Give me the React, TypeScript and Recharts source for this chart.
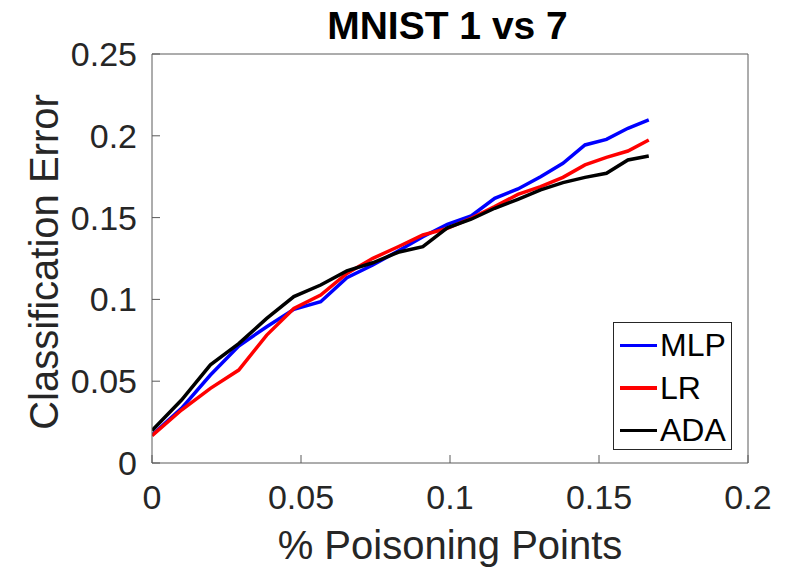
import React from 'react';
import { LineChart, Line, XAxis, YAxis } from 'recharts';

const poisonFraction = [0, 0.0099, 0.0196, 0.0291, 0.0385, 0.0476, 0.0566, 0.0654, 0.0741, 0.0826, 0.0909, 0.0991, 0.1071, 0.115, 0.1228, 0.1304, 0.1379, 0.1453, 0.1525, 0.1597, 0.1667];
const mlpError = [0.0171, 0.0334, 0.0538, 0.0715, 0.0833, 0.0939, 0.0986, 0.1133, 0.121, 0.1296, 0.1383, 0.1459, 0.151, 0.1618, 0.1675, 0.175, 0.1832, 0.1944, 0.1978, 0.2046, 0.2097];
const lrError = [0.0167, 0.0324, 0.0456, 0.0568, 0.0782, 0.0945, 0.1027, 0.1159, 0.1251, 0.1322, 0.1394, 0.1434, 0.1496, 0.1567, 0.1642, 0.1689, 0.1746, 0.1822, 0.1868, 0.1907, 0.1974];
const adaError = [0.0198, 0.0385, 0.06, 0.073, 0.0884, 0.1017, 0.1088, 0.1174, 0.1224, 0.1288, 0.1322, 0.1438, 0.149, 0.1557, 0.1612, 0.1669, 0.1714, 0.1746, 0.1771, 0.1852, 0.1877];
const xTicks = [0, 0.05, 0.1, 0.15, 0.2];
const yTicks = [0, 0.05, 0.1, 0.15, 0.2, 0.25];
const seriesNames = ['MLP', 'LR', 'ADA'];
const seriesColors = ['#0000ff', '#ff0000', '#000000'];

const data = poisonFraction.map((x, i) => ({ x, MLP: mlpError[i], LR: lrError[i], ADA: adaError[i] }));

const FONT = '"Liberation Sans", Arial, Helvetica, sans-serif';
const AXIS = '#5a5a5a';
const TEXT = '#262626';

const LegendBox = () => (
  <div style={{ position: 'absolute', left: 613, top: 322, width: 117, height: 126, border: `1px solid ${TEXT}`, background: '#fff', fontFamily: FONT }}>
    {seriesNames.map((n, i) => (
      <div key={n} style={{ display: 'flex', alignItems: 'center', height: 42.5, marginTop: i === 0 ? 1 : 0 }}>
        <div style={{ width: 37, height: 3.5, background: seriesColors[i], marginLeft: 6, marginRight: 3 }} />
        <span style={{ fontSize: 32, color: '#000', lineHeight: '32px' }}>{n}</span>
      </div>
    ))}
  </div>
);

export default function App() {
  return (
    <div style={{ position: 'absolute', left: 0, top: 0, width: 795, height: 569, background: '#fff' }}>
      <LineChart width={795} height={569} data={data} margin={{ top: 53, right: 46, bottom: 0, left: 0 }} style={{ position: 'absolute', left: 0, top: 0 }}>
        <XAxis
          dataKey="x"
          type="number"
          domain={[0, 0.2]}
          ticks={xTicks}
          height={106}
          stroke={AXIS}
          tickSize={-8}
          tickMargin={30}
          tick={{ fill: TEXT, fontSize: 34, fontFamily: FONT }}
          label={{ value: '% Poisoning Points', position: 'center', dy: 29, fill: TEXT, fontSize: 40, fontFamily: FONT }}
          allowDataOverflow
        />
        <XAxis xAxisId="top" orientation="top" dataKey="x" type="number" domain={[0, 0.2]} ticks={xTicks} height={1} stroke={AXIS} tickSize={-8} tick={false} />
        <YAxis
          type="number"
          domain={[0, 0.25]}
          ticks={yTicks}
          width={152}
          stroke={AXIS}
          tickSize={-8}
          tickMargin={23}
          tick={{ fill: TEXT, fontSize: 34, fontFamily: FONT }}
          label={{ value: 'Classification Error', angle: -90, position: 'center', dx: -32.5, dy: 3.5, fill: TEXT, fontSize: 40, fontFamily: FONT }}
          allowDataOverflow
        />
        <YAxis yAxisId="right" orientation="right" type="number" domain={[0, 0.25]} ticks={yTicks} width={1} stroke={AXIS} tickSize={-8} tick={false} />
        {seriesNames.map((n, i) => (
          <Line key={n} type="linear" dataKey={n} stroke={seriesColors[i]} strokeWidth={3.5} dot={false} isAnimationActive={false} />
        ))}
      </LineChart>
      <div style={{ position: 'absolute', left: 0, width: 795, top: 6, textAlign: 'center', fontFamily: FONT, fontWeight: 'bold', fontSize: 39, lineHeight: '39px', color: '#000', paddingLeft: 100, boxSizing: 'border-box' }}>
        MNIST 1 vs 7
      </div>
      <LegendBox />
    </div>
  );
}
